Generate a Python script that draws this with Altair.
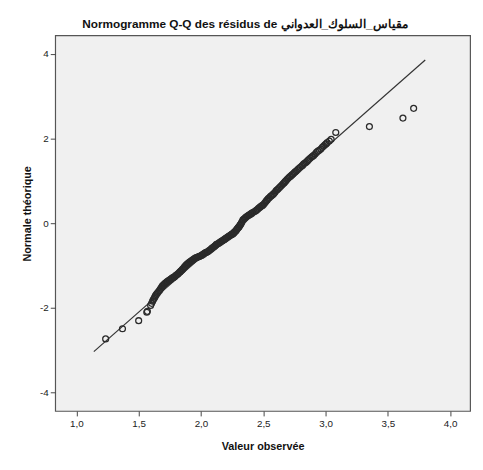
import altair as alt
import pandas as pd

obs_x = [1.235, 1.37, 1.50, 1.565, 1.57, 1.596, 1.612, 1.625, 1.635, 1.650, 1.667, 1.680,
         1.691, 1.705, 1.718, 1.730, 1.745, 1.760, 1.772, 1.786, 1.800, 1.815, 1.832, 1.845,
         1.858, 1.872, 1.888, 1.900, 1.915, 1.930, 1.943, 1.958, 1.975, 1.990, 2.005, 2.021,
         2.035, 2.050, 2.069, 2.085, 2.100, 2.112, 2.124, 2.140, 2.155, 2.170, 2.187, 2.200,
         2.215, 2.230, 2.245, 2.258, 2.270, 2.283, 2.295, 2.305, 2.315, 2.325, 2.337, 2.350,
         2.365, 2.384, 2.400, 2.415, 2.439, 2.455, 2.470, 2.482, 2.494, 2.510, 2.525, 2.540,
         2.557, 2.570, 2.585, 2.604, 2.620, 2.640, 2.659, 2.675, 2.690, 2.710, 2.730, 2.748,
         2.765, 2.785, 2.809, 2.825, 2.845, 2.865, 2.888, 2.905, 2.927, 2.950, 2.974, 2.995,
         3.013, 3.045, 3.082, 3.352, 3.621, 3.707,
         1.604, 1.618, 1.630, 1.642, 1.658, 1.673, 1.686, 1.698, 1.711, 1.724, 1.738, 1.752,
         1.766, 1.779, 1.793, 1.808, 1.823, 1.838, 1.851, 1.865, 1.880, 1.894, 1.908, 1.922,
         1.936, 1.950, 1.966, 1.982, 1.998, 2.013, 2.028, 2.042, 2.060, 2.077, 2.092, 2.106,
         2.118, 2.132, 2.148, 2.162, 2.178, 2.193, 2.208, 2.222, 2.238, 2.251, 2.264, 2.277,
         2.289, 2.300, 2.310, 2.320, 2.331, 2.343, 2.357, 2.374, 2.392, 2.407, 2.427, 2.447,
         2.462, 2.476, 2.488, 2.502, 2.518, 2.532, 2.548, 2.563, 2.578, 2.594, 2.612, 2.630,
         2.650, 2.667, 2.682, 2.700, 2.720, 2.739, 2.756, 2.775, 2.797, 2.817, 2.835, 2.855,
         2.876, 2.896, 2.916, 2.938, 2.962, 2.985, 3.004, 3.030]
theo_y = [-2.73, -2.49, -2.30, -2.10, -2.08, -1.94, -1.84, -1.77, -1.71, -1.65, -1.59, -1.53,
          -1.48, -1.44, -1.41, -1.38, -1.35, -1.32, -1.29, -1.27, -1.23, -1.20, -1.15, -1.11,
          -1.07, -1.02, -0.97, -0.94, -0.91, -0.88, -0.85, -0.82, -0.80, -0.78, -0.76, -0.73,
          -0.70, -0.68, -0.64, -0.60, -0.57, -0.54, -0.50, -0.48, -0.45, -0.42, -0.39, -0.36,
          -0.33, -0.30, -0.27, -0.25, -0.21, -0.17, -0.12, -0.09, -0.04, 0.01, 0.08, 0.11,
          0.15, 0.19, 0.22, 0.25, 0.29, 0.33, 0.37, 0.40, 0.42, 0.47, 0.53, 0.58,
          0.63, 0.66, 0.70, 0.77, 0.81, 0.87, 0.93, 0.98, 1.03, 1.09, 1.14, 1.19,
          1.23, 1.29, 1.35, 1.40, 1.44, 1.50, 1.56, 1.60, 1.67, 1.72, 1.79, 1.85,
          1.90, 1.98, 2.14, 2.28, 2.48, 2.71,
          -1.89, -1.80, -1.74, -1.68, -1.62, -1.56, -1.50, -1.46, -1.42, -1.39, -1.36, -1.33,
          -1.30, -1.28, -1.25, -1.21, -1.17, -1.13, -1.09, -1.04, -0.99, -0.95, -0.92, -0.89,
          -0.86, -0.83, -0.81, -0.79, -0.77, -0.74, -0.71, -0.69, -0.66, -0.62, -0.58, -0.55,
          -0.52, -0.49, -0.46, -0.43, -0.40, -0.37, -0.34, -0.31, -0.28, -0.26, -0.23, -0.19,
          -0.14, -0.10, -0.06, -0.02, 0.04, 0.09, 0.13, 0.17, 0.20, 0.23, 0.27, 0.31,
          0.35, 0.38, 0.41, 0.44, 0.50, 0.55, 0.60, 0.64, 0.68, 0.73, 0.79, 0.84,
          0.90, 0.95, 1.00, 1.06, 1.11, 1.16, 1.21, 1.26, 1.32, 1.37, 1.42, 1.47,
          1.53, 1.58, 1.63, 1.70, 1.75, 1.82, 1.87, 1.94]

# Reference line end points
line_x = [1.14, 3.80]
line_y = [-3.03, 3.85]

x_ticks = [1.0, 1.5, 2.0, 2.5, 3.0, 3.5, 4.0]
y_ticks = [-4, -2, 0, 2, 4]

pts = pd.DataFrame({"x": obs_x, "y": theo_y})
ln = pd.DataFrame({"x": line_x, "y": line_y})

label_font = "'Liberation Sans Narrow', 'Liberation Sans', Arial, sans-serif"
bold_font = "'Liberation Sans', Arial, sans-serif"

xscale = alt.Scale(domain=[0.83, 4.16], nice=False, zero=False)
yscale = alt.Scale(domain=[-4.43, 4.43], nice=False, zero=False)

xaxis = alt.Axis(values=x_ticks, title="Valeur observée", grid=False, domain=False,
                 tickColor="#444", tickSize=5, labelFont=label_font, labelFontSize=10,
                 labelColor="#222", labelExpr="replace(format(datum.value, '.1f'), '.', ',')",
                 labelPadding=3, titleFont=bold_font, titleFontSize=11, titleFontWeight="bold",
                 titleColor="#111", titlePadding=12)
yaxis = alt.Axis(values=y_ticks, title="Normale théorique", grid=False, domain=False,
                 tickColor="#444", tickSize=5, labelFont=label_font, labelFontSize=10,
                 labelColor="#222", labelExpr="'' + datum.value", labelPadding=2,
                 titleFont=bold_font, titleFontSize=11, titleFontWeight="bold",
                 titleColor="#111", titlePadding=7, titleY=181)

line = alt.Chart(ln).mark_line(color="#333", strokeWidth=1.2).encode(
    x=alt.X("x:Q", scale=xscale, axis=xaxis),
    y=alt.Y("y:Q", scale=yscale, axis=yaxis),
)

points = alt.Chart(pts).mark_point(shape="circle", filled=False, color="#2a2a2a",
                                   size=36, strokeWidth=1.3, opacity=1).encode(
    x=alt.X("x:Q", scale=xscale),
    y=alt.Y("y:Q", scale=yscale),
)

chart = alt.layer(line, points).properties(
    width=422,
    height=382,
    title=alt.TitleParams("Normogramme Q-Q des résidus de مقياس_السلوك_العدواني",
                          font=bold_font, fontSize=12, fontWeight="bold", color="#111",
                          anchor="middle", dx=-18, offset=5),
    autosize=alt.AutoSizeParams(type="none"),
    padding={"left": 48, "top": 24, "right": 5, "bottom": 48},
    background="white",
).configure_view(fill="#F0F0F0", stroke="#555", strokeWidth=1.2)

chart.save("out.html", embed_options={"renderer": "svg", "actions": False})
